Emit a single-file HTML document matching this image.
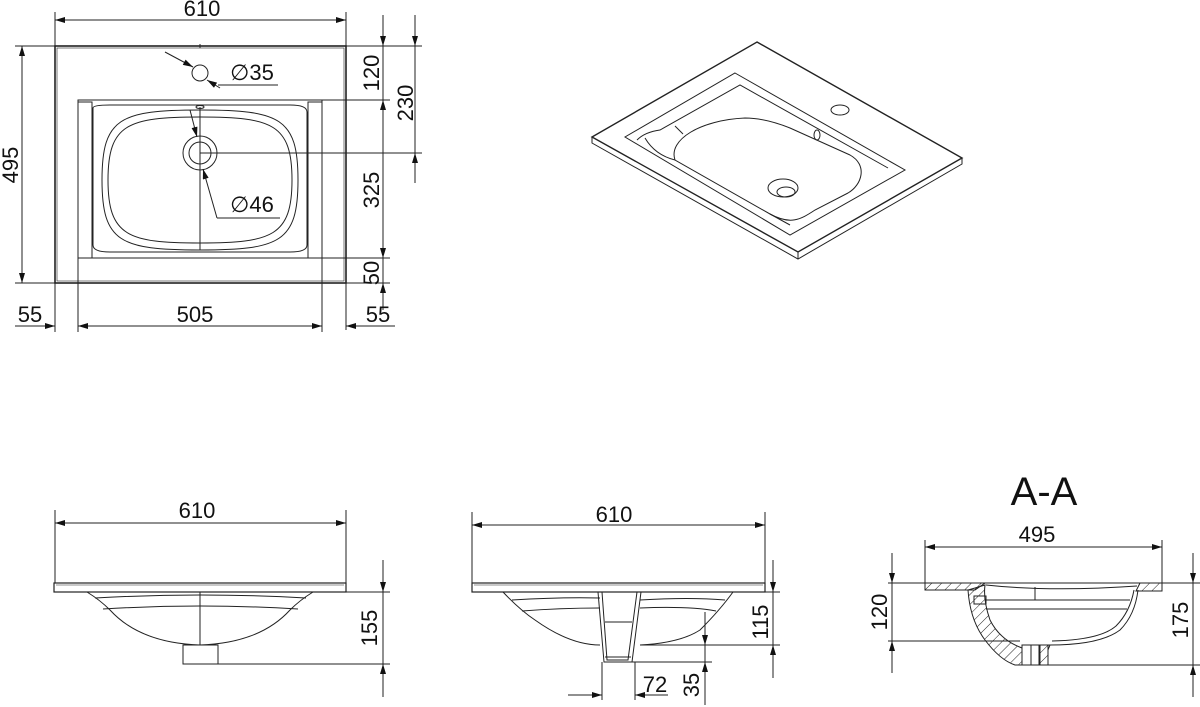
<!DOCTYPE html>
<html><head><meta charset="utf-8"><style>
body{margin:0;background:#fff}
svg{display:block}
text{font-family:"Liberation Sans",Arial,sans-serif;fill:#111}
</style></head><body>
<svg width="1200" height="707" viewBox="0 0 1200 707" xmlns="http://www.w3.org/2000/svg">
<defs>
<marker id="a" viewBox="0 0 10 6" refX="10" refY="3" markerWidth="14" markerHeight="6" markerUnits="userSpaceOnUse" orient="auto-start-reverse"><path d="M0,0L10,3L0,6Z" fill="#111"/></marker>
<pattern id="h" width="7" height="7" patternUnits="userSpaceOnUse" patternTransform="rotate(45)"><line x1="0" y1="0" x2="0" y2="7" stroke="#222" stroke-width="1"/></pattern>
</defs>
<g fill="none" stroke="#222" stroke-width="1">
<!-- TOP VIEW -->
<rect x="55" y="46" width="291" height="237" stroke-width="1.6"/>
<rect x="57" y="48" width="287" height="233" stroke-width="0.6"/>
<polyline points="78,283 78,100 322,100 322,283"/>
<line x1="78" y1="258" x2="322" y2="258"/>
<rect x="78" y="102" width="14" height="156"/>
<rect x="308" y="102" width="14" height="156"/>
<path d="M93,108 Q93,105 110,105 L290,105 Q307,105 307,112 L307,245 Q307,252 290,252 L110,252 Q93,252 93,245 Z"/>
<path d="M200,110 C120,110 102,118 102,180 C102,242 120,250 200,250 C280,250 298,242 298,180 C298,118 280,110 200,110 Z"/>
<path d="M200,117 C128,117 108,124 108,180 C108,236 128,243 200,243 C272,243 292,236 292,180 C292,124 272,117 200,117 Z"/>
<line x1="200" y1="107" x2="200" y2="250"/>
<ellipse cx="200" cy="107" rx="4" ry="1.5"/>
<circle cx="200" cy="153" r="17"/>
<circle cx="200" cy="153" r="11"/>
<circle cx="200" cy="73" r="8"/>
<line x1="200" y1="44" x2="200" y2="48"/>
<line x1="165" y1="52" x2="193" y2="67" marker-end="url(#a)"/>
<path d="M220,88 L207,80" marker-end="url(#a)"/>
<line x1="218" y1="85" x2="278" y2="85"/>
<line x1="190" y1="110" x2="197" y2="137" marker-end="url(#a)"/>
<line x1="217" y1="218" x2="203" y2="169" marker-end="url(#a)"/>
<line x1="217" y1="218" x2="280" y2="218"/>
<line x1="200" y1="153" x2="422" y2="153"/>
<line x1="322" y1="100" x2="390" y2="100"/>
<line x1="346" y1="46" x2="422" y2="46"/>
<line x1="322" y1="258" x2="390" y2="258"/>
<line x1="346" y1="283" x2="390" y2="283"/>
<line x1="346" y1="283" x2="346" y2="330"/>
<line x1="55" y1="12" x2="55" y2="46"/>
<line x1="346" y1="12" x2="346" y2="46"/>
<line x1="55" y1="20" x2="346" y2="20" marker-start="url(#a)" marker-end="url(#a)"/>
<line x1="15" y1="46" x2="55" y2="46"/>
<line x1="15" y1="283" x2="55" y2="283"/>
<line x1="22" y1="46" x2="22" y2="283" marker-start="url(#a)" marker-end="url(#a)"/>
<line x1="383" y1="15" x2="383" y2="46" marker-end="url(#a)"/>
<line x1="383" y1="46" x2="383" y2="100"/>
<line x1="383" y1="100" x2="383" y2="258" marker-start="url(#a)" marker-end="url(#a)"/>
<line x1="383" y1="258" x2="383" y2="283"/>
<line x1="383" y1="310" x2="383" y2="283" marker-end="url(#a)"/>
<line x1="415" y1="15" x2="415" y2="46" marker-end="url(#a)"/>
<line x1="415" y1="46" x2="415" y2="153"/>
<line x1="415" y1="183" x2="415" y2="153" marker-end="url(#a)"/>
<line x1="55" y1="283" x2="55" y2="332"/>
<line x1="78" y1="283" x2="78" y2="332"/>
<line x1="322" y1="283" x2="322" y2="332"/>
<line x1="15" y1="326" x2="55" y2="326" marker-end="url(#a)"/>
<line x1="78" y1="326" x2="322" y2="326" marker-start="url(#a)" marker-end="url(#a)"/>
<line x1="395" y1="326" x2="346" y2="326" marker-end="url(#a)"/>
<!-- 3D VIEW -->
<polygon points="757,42 962,158 798,252 592,137" stroke-width="1.4"/>
<polyline points="592,137 592,143 798,259 962,164 962,158"/>
<line x1="798" y1="252" x2="798" y2="259"/>
<polygon points="735,73 905,170 790,235 625,137"/>
<path d="M637,140 Q645,132 660,130 L740,85 L888,168"/>
<path d="M645,138 Q655,155 675,160"/>
<path d="M675,160 C668,140 700,120 745,118 C760,118 775,122 790,128 L850,155 C868,165 862,185 848,193 L815,210 C800,220 790,225 770,214 Z"/>
<path d="M770,214 L790,225"/>
<line x1="675" y1="126" x2="683" y2="134"/>
<ellipse cx="783" cy="188" rx="15" ry="9"/>
<ellipse cx="786" cy="192" rx="9" ry="5"/>
<ellipse cx="840" cy="110" rx="9" ry="5"/>
<ellipse cx="817" cy="135" rx="3" ry="5"/>
<!-- BOTTOM LEFT -->
<line x1="55" y1="510" x2="55" y2="583"/>
<line x1="346" y1="510" x2="346" y2="583"/>
<line x1="55" y1="523" x2="346" y2="523" marker-start="url(#a)" marker-end="url(#a)"/>
<rect x="54" y="583" width="292" height="9" stroke-width="1.2"/>
<line x1="56" y1="585" x2="344" y2="585" stroke-width="0.6"/>
<path d="M87,592 Q100,600 110,610 Q140,643 200,645 Q260,643 290,610 Q300,600 313,592"/>
<path d="M95,598 Q200,592 306,598"/>
<path d="M103,609 Q200,603 298,609"/>
<line x1="200" y1="592" x2="200" y2="645"/>
<rect x="183" y="645" width="35" height="19"/>
<line x1="346" y1="592" x2="390" y2="592"/>
<line x1="218" y1="664" x2="390" y2="664"/>
<line x1="383" y1="560" x2="383" y2="592" marker-end="url(#a)"/>
<line x1="383" y1="592" x2="383" y2="664"/>
<line x1="383" y1="697" x2="383" y2="664" marker-end="url(#a)"/>
<!-- BOTTOM MIDDLE -->
<line x1="472" y1="512" x2="472" y2="583"/>
<line x1="765" y1="512" x2="765" y2="583"/>
<line x1="472" y1="525" x2="765" y2="525" marker-start="url(#a)" marker-end="url(#a)"/>
<rect x="472" y="583" width="293" height="9" stroke-width="1.2"/>
<line x1="474" y1="585" x2="763" y2="585" stroke-width="0.6"/>
<path d="M503,592 Q520,610 535,620 Q570,645 600,645"/>
<path d="M640,645 Q680,643 700,630 Q720,610 733,592"/>
<path d="M512,600 Q560,597 600,598"/>
<path d="M640,600 Q690,597 725,600"/>
<path d="M522,611 Q560,608 600,608"/>
<path d="M640,608 Q690,606 716,611"/>
<polygon points="598,592 641,592 632,662 604,662"/>
<polygon points="602,592 637,592 628,660 607,660"/>
<line x1="605" y1="622" x2="632" y2="622"/>
<line x1="605" y1="657" x2="631" y2="657"/>
<line x1="733" y1="592" x2="780" y2="592"/>
<line x1="640" y1="645" x2="780" y2="645"/>
<line x1="632" y1="662" x2="712" y2="662"/>
<line x1="773" y1="560" x2="773" y2="592" marker-end="url(#a)"/>
<line x1="773" y1="592" x2="773" y2="645"/>
<line x1="773" y1="678" x2="773" y2="645" marker-end="url(#a)"/>
<line x1="705" y1="612" x2="705" y2="645" marker-end="url(#a)"/>
<line x1="705" y1="645" x2="705" y2="662"/>
<line x1="705" y1="705" x2="705" y2="662" marker-end="url(#a)"/>
<line x1="602" y1="662" x2="602" y2="700"/>
<line x1="635" y1="662" x2="635" y2="700"/>
<line x1="568" y1="695" x2="602" y2="695" marker-end="url(#a)"/>
<line x1="668" y1="695" x2="635" y2="695" marker-end="url(#a)"/>
<!-- SECTION A-A -->
<line x1="925" y1="540" x2="925" y2="583"/>
<line x1="1162" y1="540" x2="1162" y2="583"/>
<line x1="925" y1="547" x2="1162" y2="547" marker-start="url(#a)" marker-end="url(#a)"/>
<line x1="888" y1="583" x2="1200" y2="583"/>
<path d="M925,583 L985,583 L975,590 L925,590 Z" fill="url(#h)"/>
<path d="M1140,583 L1162,583 L1162,591 L1136,591 Z" fill="url(#h)"/>
<path d="M968,590 Q970,620 985,640 Q1000,660 1015,665 L1022,665 L1022,648 Q1000,640 990,620 Q983,600 985,585 L975,588 Z" fill="url(#h)"/>
<path d="M1048,665 L1048,650 L1050,645 L1040,645 L1040,665 Z" fill="url(#h)"/>
<rect x="1022" y="645" width="26" height="20"/>
<line x1="1031" y1="645" x2="1031" y2="665"/>
<line x1="1039" y1="645" x2="1039" y2="665"/>
<path d="M986,585 Q1050,592 1137,586"/>
<path d="M1050,645 Q1100,645 1120,630 Q1135,615 1138,590"/>
<path d="M1052,641 Q1100,640 1116,626 Q1130,612 1134,590"/>
<rect x="974" y="596" width="12" height="8"/>
<line x1="986" y1="600" x2="1130" y2="600"/>
<line x1="986" y1="609" x2="1127" y2="609"/>
<line x1="1035" y1="587" x2="1035" y2="600"/>
<line x1="888" y1="641" x2="1020" y2="641"/>
<line x1="1015" y1="665" x2="1200" y2="665"/>
<line x1="892" y1="553" x2="892" y2="583" marker-end="url(#a)"/>
<line x1="892" y1="583" x2="892" y2="641"/>
<line x1="892" y1="673" x2="892" y2="641" marker-end="url(#a)"/>
<line x1="1193" y1="553" x2="1193" y2="583" marker-end="url(#a)"/>
<line x1="1193" y1="583" x2="1193" y2="665"/>
<line x1="1193" y1="697" x2="1193" y2="665" marker-end="url(#a)"/>
</g>
<g font-size="22" text-anchor="middle">
<text x="202" y="16">610</text>
<text x="252" y="80">∅35</text>
<text x="252" y="212">∅46</text>
<text x="30" y="322">55</text>
<text x="195" y="322">505</text>
<text x="378" y="322">55</text>
<text transform="translate(18,165) rotate(-90)">495</text>
<text transform="translate(379,73) rotate(-90)">120</text>
<text transform="translate(379,190) rotate(-90)">325</text>
<text transform="translate(379,273) rotate(-90)">50</text>
<text transform="translate(413,103) rotate(-90)">230</text>
<text x="197" y="518">610</text>
<text transform="translate(377,628) rotate(-90)">155</text>
<text x="614" y="522">610</text>
<text transform="translate(768,622) rotate(-90)">115</text>
<text x="655" y="692">72</text>
<text transform="translate(699,685) rotate(-90)">35</text>
<text x="1037" y="542">495</text>
<text transform="translate(887,612) rotate(-90)">120</text>
<text transform="translate(1188,620) rotate(-90)">175</text>
<text x="1044" y="505" font-size="40">A-A</text>
</g>
</svg>
</body></html>
